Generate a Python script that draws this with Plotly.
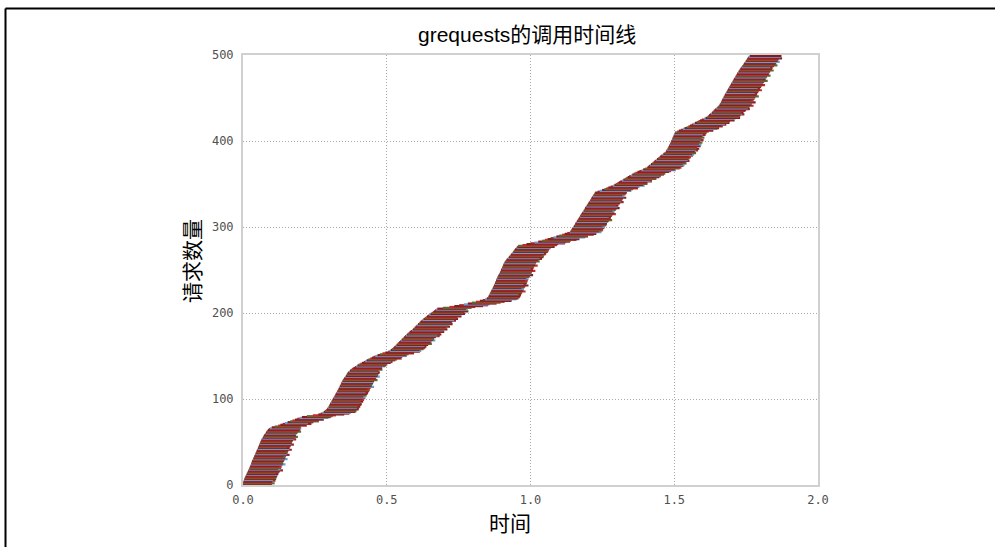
import plotly.graph_objects as go

# ---- data ----
# start time (s) of each request, request 0 .. 499
start_times = [
    # cluster 1 (0-66)
    0.000, 0.000, 0.000, 0.001, 0.002, 0.003, 0.004, 0.005, 0.006, 0.008,
    0.009, 0.011, 0.012, 0.013, 0.015, 0.016, 0.018, 0.019, 0.020, 0.022,
    0.023, 0.024, 0.026, 0.027, 0.028, 0.029, 0.030, 0.031, 0.032, 0.034,
    0.035, 0.036, 0.038, 0.039, 0.040, 0.042, 0.043, 0.044, 0.046, 0.047,
    0.048, 0.050, 0.051, 0.052, 0.053, 0.055, 0.056, 0.057, 0.058, 0.060,
    0.061, 0.062, 0.064, 0.065, 0.067, 0.069, 0.071, 0.072, 0.074, 0.076,
    0.078, 0.080, 0.082, 0.084, 0.087, 0.090, 0.093,
    # flat (67-85)
    0.100, 0.110, 0.122, 0.130, 0.138, 0.146, 0.155, 0.164, 0.172, 0.181,
    0.189, 0.197, 0.205, 0.222, 0.243, 0.262, 0.270, 0.276, 0.281,
    # cluster 2 (86-135)
    0.285, 0.288, 0.292, 0.294,
    0.296, 0.298, 0.299, 0.301, 0.303, 0.304, 0.306, 0.308, 0.309, 0.311,
    0.313, 0.315, 0.316, 0.318, 0.320, 0.321, 0.323, 0.325, 0.326, 0.328,
    0.330, 0.331, 0.333, 0.334, 0.336, 0.337, 0.339, 0.340, 0.342, 0.343,
    0.345, 0.346, 0.348, 0.350, 0.352, 0.354, 0.356, 0.358, 0.360, 0.362,
    0.364, 0.366, 0.369, 0.372, 0.375, 0.379,
    # flat (136-155)
    0.384, 0.389, 0.394, 0.398, 0.402, 0.408, 0.414, 0.420, 0.425, 0.430,
    0.436, 0.442, 0.448, 0.454, 0.460, 0.468, 0.476, 0.485, 0.495, 0.505,
    # cluster 3 (156-205)
    0.510, 0.514, 0.518, 0.522,
    0.525, 0.528, 0.531, 0.534, 0.537, 0.540, 0.543, 0.546, 0.549, 0.552,
    0.555, 0.558, 0.561, 0.564, 0.567, 0.570, 0.573, 0.577, 0.580, 0.584,
    0.588, 0.591, 0.594, 0.597, 0.600, 0.603, 0.606, 0.609, 0.612, 0.615,
    0.618, 0.621, 0.624, 0.628, 0.632, 0.636, 0.640, 0.644, 0.648, 0.652,
    0.656, 0.660, 0.664, 0.668, 0.672, 0.676,
    # flat (206-218)
    0.695, 0.718, 0.735, 0.752, 0.768, 0.782, 0.796, 0.810, 0.824, 0.834,
    0.842, 0.848, 0.852,
    # cluster 4 (219-278)
    0.854,
    0.855, 0.857, 0.858, 0.860, 0.861, 0.863, 0.864, 0.866, 0.867, 0.869,
    0.870, 0.872, 0.873, 0.875, 0.876, 0.877, 0.878, 0.880, 0.881, 0.882,
    0.883, 0.885, 0.886, 0.888, 0.889, 0.891, 0.892, 0.894, 0.895, 0.897,
    0.898, 0.899, 0.901, 0.902, 0.903, 0.905, 0.906, 0.907, 0.909, 0.910,
    0.912, 0.915, 0.917, 0.920, 0.922, 0.925, 0.927, 0.930, 0.932, 0.935,
    0.937, 0.940, 0.942, 0.944, 0.946, 0.949, 0.951, 0.954, 0.957,
    # flat (279-294)
    0.972, 0.986, 1.000, 1.014, 1.027, 1.040, 1.050, 1.060, 1.070, 1.080,
    1.090, 1.100, 1.110, 1.119, 1.128, 1.137,
    # cluster 5 (295-340)
    1.139, 1.141, 1.143, 1.145, 1.147,
    1.149, 1.151, 1.153, 1.155, 1.156, 1.158, 1.160, 1.162, 1.164, 1.166,
    1.168, 1.170, 1.172, 1.173, 1.175, 1.177, 1.179, 1.181, 1.183, 1.185,
    1.187, 1.189, 1.190, 1.192, 1.194, 1.196, 1.198, 1.200, 1.202, 1.204,
    1.206, 1.208, 1.210, 1.211, 1.213, 1.215, 1.217, 1.219, 1.221, 1.223,
    1.225,
    # flat (341-364)
    1.233, 1.241, 1.249, 1.257, 1.264, 1.271, 1.279, 1.287, 1.292, 1.297,
    1.302, 1.307, 1.312, 1.318, 1.323, 1.328, 1.333, 1.338, 1.343, 1.349,
    1.354, 1.359, 1.365, 1.372,
    # cluster 6 (365-410)
    1.379, 1.386, 1.392, 1.399, 1.405, 1.409, 1.412, 1.416, 1.419, 1.423,
    1.426, 1.430, 1.433, 1.437, 1.440, 1.444, 1.448, 1.451, 1.455, 1.459,
    1.462, 1.466, 1.470, 1.472, 1.473, 1.475, 1.477, 1.478, 1.480, 1.482,
    1.483, 1.485, 1.486, 1.488, 1.489, 1.490, 1.492, 1.493, 1.494, 1.495,
    1.497, 1.498, 1.499, 1.500, 1.502, 1.503,
    # flat (411-428)
    1.510, 1.516, 1.523, 1.530, 1.536, 1.543, 1.549, 1.555, 1.561, 1.566,
    1.572, 1.578, 1.584, 1.590, 1.596, 1.603, 1.609, 1.615,
    # cluster 7 (429-499)
    1.618, 1.621, 1.624, 1.627, 1.631, 1.634, 1.637, 1.640, 1.643, 1.646,
    1.650, 1.653, 1.656,
    1.658, 1.659, 1.661, 1.663, 1.664, 1.666, 1.667, 1.669,
    1.671, 1.672, 1.674, 1.675, 1.677, 1.679, 1.680, 1.682, 1.684, 1.685,
    1.687, 1.689, 1.690, 1.692, 1.694, 1.696, 1.698, 1.699, 1.701, 1.703,
    1.705, 1.706, 1.708, 1.710, 1.712, 1.713, 1.715, 1.717, 1.719, 1.720,
    1.722, 1.724, 1.726, 1.728, 1.730, 1.732, 1.734, 1.737, 1.739, 1.741,
    1.743, 1.745, 1.747, 1.749, 1.751, 1.753, 1.755, 1.757, 1.759, 1.763,
]

# how long each request took (s)
durations = [
    .10, .10, .11, .10, .10, .11, .10, .11, .11, .10, .11, .10, .11, .11, .10, .11, .11, .12, .11, .10,
    .11, .11, .10, .11, .12, .11, .11, .10, .11, .11, .12, .11, .11, .10, .11, .12, .11, .11, .11, .10,
    .11, .12, .11, .11, .10, .11, .11, .12, .11, .11, .11, .10, .11, .12, .11, .11, .12, .11, .11, .10,
    .11, .11, .12, .11, .11, .11, .11, .10, .09, .10, .09, .10, .08, .09, .10, .09, .10, .09, .10, .10,
    .09, .08, .09, .10, .10, .11, .11, .10, .11, .11, .10, .11, .10, .11, .11, .10, .10, .11, .10, .11,
    .10, .11, .11, .10, .11, .10, .11, .11, .10, .11, .11, .11, .10, .11, .12, .11, .11, .10, .11, .11,
    .11, .11, .12, .11, .11, .11, .12, .11, .11, .10, .11, .11, .10, .10, .11, .10, .10, .09, .10, .10,
    .10, .09, .10, .10, .09, .10, .10, .11, .10, .10, .11, .10, .10, .11, .10, .11, .11, .10, .11, .11,
    .11, .11, .10, .11, .12, .11, .11, .11, .12, .11, .11, .10, .11, .12, .11, .12, .11, .11, .12, .11,
    .11, .12, .11, .11, .12, .11, .11, .12, .11, .11, .11, .12, .11, .12, .11, .11, .12, .11, .11, .12,
    .11, .11, .12, .11, .11, .10, .10, .09, .10, .10, .09, .10, .10, .10, .11, .10, .11, .11, .11, .11,
    .11, .11, .10, .11, .11, .12, .11, .11, .11, .10, .11, .11, .12, .11, .10, .11, .11, .11, .10, .11,
    .11, .10, .11, .11, .12, .11, .11, .11, .11, .12, .11, .11, .10, .11, .11, .12, .11, .11, .11, .11,
    .12, .11, .11, .12, .11, .12, .12, .11, .12, .12, .11, .12, .12, .12, .11, .12, .12, .13, .12, .12,
    .11, .12, .11, .11, .10, .11, .11, .10, .11, .11, .10, .11, .11, .10, .11, .10, .11, .11, .10, .11,
    .11, .10, .11, .11, .11, .10, .11, .11, .12, .11, .11, .11, .10, .11, .11, .12, .11, .11, .11, .10,
    .11, .11, .12, .11, .11, .11, .10, .11, .11, .12, .11, .11, .11, .11, .12, .11, .11, .10, .11, .11,
    .11, .10, .11, .10, .10, .11, .10, .10, .11, .10, .11, .10, .10, .11, .10, .10, .11, .10, .11, .11,
    .10, .11, .11, .10, .11, .11, .12, .11, .12, .12, .11, .12, .12, .11, .12, .11, .11, .12, .11, .11,
    .11, .11, .10, .11, .11, .10, .11, .10, .10, .11, .10, .11, .10, .10, .11, .10, .11, .10, .11, .10,
    .10, .11, .10, .10, .11, .10, .10, .11, .10, .11, .11, .11, .12, .11, .12, .12, .11, .12, .11, .12,
    .11, .12, .11, .11, .12, .11, .11, .12, .11, .11, .11, .12, .11, .11, .10, .11, .11, .12, .11, .11,
    .11, .12, .11, .11, .11, .12, .11, .11, .10, .11, .11, .11, .12, .11, .11, .11, .10, .11, .11, .12,
    .11, .11, .10, .11, .11, .12, .11, .11, .11, .11, .12, .11, .11, .10, .11, .11, .12, .11, .11, .11,
    .11, .11, .12, .11, .11, .11, .10, .11, .12, .11, .11, .11, .12, .11, .11, .11, .12, .11, .11, .11,
]

request_ids = list(range(len(start_times)))

x_tick_vals = [0.0, 0.5, 1.0, 1.5, 2.0]
x_tick_text = ["0.0", "0.5", "1.0", "1.5", "2.0"]
y_tick_vals = [0, 100, 200, 300, 400, 500]
y_tick_text = ["0", "100", "200", "300", "400", "500"]

title_text = "grequests的调用时间线"
x_title = "时间"
y_title = "请求数量"

# ---- style ----
color_cycle = ["#6c9cd8", "#8a1a1a", "#5d6b30", "#c42c2c", "#6e2a22", "#a02428"]

W, H = 995, 547
# page pixel positions of the plot frame
FL, FR, FT, FB = 243, 818, 55, 485
L, R, T, B = FL, W - FR, FT, H - FB
pw, ph = W - L - R, H - T - B

def px_to_paper_x(px):
    return (px - FL) / pw

def px_to_paper_y(py):
    return (FB - py) / ph

fig = go.Figure()
for i, (s, d) in enumerate(zip(start_times, durations)):
    fig.add_trace(go.Scatter(
        x=[s, s + d],
        y=[request_ids[i], request_ids[i]],
        mode="lines",
        line=dict(color=color_cycle[i % len(color_cycle)], width=2.2),
        showlegend=False,
        hoverinfo="skip",
    ))

tick_font = dict(family="DejaVu Sans Mono, monospace", size=12, color="#505050")
axis_common = dict(
    showline=True, mirror=True, linecolor="#d0d0d0", linewidth=2,
    showgrid=True, gridcolor="#a8a8a8", gridwidth=1, griddash="1px,2px",
    zeroline=False, ticks="", tickfont=tick_font,
)

fig.update_layout(
    width=W, height=H,
    margin=dict(l=L, r=R, t=T, b=B, autoexpand=False),
    paper_bgcolor="white", plot_bgcolor="white",
    xaxis=dict(range=[0, 2], tickvals=x_tick_vals, ticktext=x_tick_text,
               ticklabelstandoff=3, **axis_common),
    yaxis=dict(range=[0, 500], tickvals=y_tick_vals, ticktext=y_tick_text,
               ticklabelstandoff=5, **axis_common),
)

cjk_font = "Liberation Sans, Arial, Noto Sans CJK SC, sans-serif"
fig.add_annotation(text=title_text, xref="paper", yref="paper",
                   x=px_to_paper_x(527), y=px_to_paper_y(35),
                   xanchor="center", yanchor="middle", showarrow=False,
                   font=dict(family=cjk_font, size=21, color="black"))
fig.add_annotation(text=x_title, xref="paper", yref="paper",
                   x=px_to_paper_x(510), y=px_to_paper_y(523),
                   xanchor="center", yanchor="middle", showarrow=False,
                   font=dict(family=cjk_font, size=21, color="black"))
fig.add_annotation(text=y_title, xref="paper", yref="paper",
                   x=px_to_paper_x(192), y=px_to_paper_y(261),
                   xanchor="center", yanchor="middle", showarrow=False,
                   textangle=-90,
                   font=dict(family=cjk_font, size=21, color="black"))

# outer black border (top and left edges of the figure frame)
fig.add_shape(type="line", xref="paper", yref="paper",
              x0=px_to_paper_x(5.5), x1=px_to_paper_x(1010),
              y0=px_to_paper_y(8.5), y1=px_to_paper_y(8.5),
              line=dict(color="black", width=2))
fig.add_shape(type="line", xref="paper", yref="paper",
              x0=px_to_paper_x(5.5), x1=px_to_paper_x(5.5),
              y0=px_to_paper_y(8.5), y1=px_to_paper_y(560),
              line=dict(color="black", width=2))

fig.write_html(
    "out.html",
    config={"displayModeBar": False},
    post_script="document.body.style.margin='0';",
)
